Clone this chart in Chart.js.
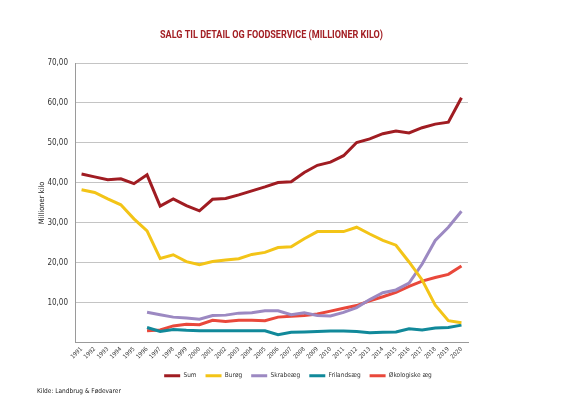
<!DOCTYPE html>
<html>
<head>
<meta charset="utf-8">
<script src="https://cdn.jsdelivr.net/npm/chart.js@4.4.1/dist/chart.umd.min.js"></script>
<style>
html,body{margin:0;padding:0;background:#fff;}
canvas{display:block;}
</style>
</head>
<body>
<canvas id="c" width="576" height="407"></canvas>
<script>
const years = ['1991','1992','1993','1994','1995','1996','1997','1998','1999','2000','2001','2002','2003','2004','2005','2006','2007','2008','2009','2010','2011','2012','2013','2014','2015','2016','2017','2018','2019','2020'];
const sumValues = [42.2,41.5,40.8,41.0,39.8,42.0,34.2,36.0,34.3,33.0,35.9,36.1,37.0,38.0,39.0,40.1,40.3,42.6,44.4,45.2,46.8,50.1,51.0,52.3,53.0,52.5,53.8,54.7,55.2,61.3];
const burValues = [38.3,37.6,36.0,34.5,31.0,28.0,21.1,22.0,20.3,19.5,20.3,20.7,21.0,22.1,22.6,23.8,24.0,26.0,27.8,27.8,27.8,28.9,27.2,25.6,24.4,20.2,15.7,9.4,5.5,5.0];
const skrabeValues = [null,null,null,null,null,7.6,7.0,6.4,6.2,5.9,6.8,6.9,7.4,7.5,8.0,8.0,7.0,7.5,6.8,6.7,7.6,8.8,10.8,12.5,13.2,14.9,19.7,25.6,28.9,32.9];
const frilandValues = [null,null,null,null,null,3.8,2.8,3.3,3.1,3.0,3.0,3.0,3.0,3.0,3.0,2.0,2.6,2.7,2.8,2.9,2.9,2.8,2.5,2.6,2.7,3.5,3.2,3.7,3.8,4.4];
const oekoValues = [null,null,null,null,null,3.0,3.2,4.2,4.6,4.5,5.6,5.3,5.6,5.6,5.5,6.4,6.6,6.8,7.2,7.9,8.6,9.3,10.5,11.5,12.6,14.1,15.4,16.3,17.1,19.2];
const seriesNames = ['Sum','Burøg','Skrabeæg','Frilandsæg','Økologiske æg'];
const yTicks = [0,10,20,30,40,50,60,70];
const titleText = 'SALG TIL DETAIL OG FOODSERVICE (MILLIONER KILO)';
const sourceText = 'Kilde: Landbrug & Fødevarer';
const yTitle = 'Millioner kilo';

const FONT = "'DejaVu Sans Condensed', 'Liberation Sans Narrow', 'Roboto', sans-serif";
const colors = ['#a01c22','#f3c417','#9c89c2','#11899a','#e9483b'];
const allValues = [sumValues, burValues, skrabeValues, frilandValues, oekoValues];

const extraText = {
  id: 'extraText',
  afterDraw(chart) {
    const ctx = chart.ctx;
    const a = chart.chartArea;
    ctx.save();
    ctx.fillStyle = '#a31f24';
    ctx.font = "bold 11px 'Roboto', sans-serif";
    ctx.textAlign = 'center';
    ctx.textBaseline = 'middle';
    const w = ctx.measureText(titleText).width;
    const sx = 223 / w;
    ctx.translate((a.left + a.right) / 2, 35);
    ctx.scale(sx, 1);
    ctx.fillText(titleText, 0, 0);
    ctx.restore();
    ctx.save();
    ctx.fillStyle = '#222';
    ctx.font = "6.5px " + FONT;
    ctx.textAlign = 'left';
    ctx.textBaseline = 'middle';
    ctx.fillText(sourceText, 37, 391);
    ctx.restore();
  }
};

new Chart(document.getElementById('c'), {
  type: 'line',
  data: {
    labels: years,
    datasets: allValues.map((vals, i) => ({
      label: seriesNames[i],
      data: vals,
      borderColor: colors[i],
      backgroundColor: colors[i],
      borderWidth: 3,
      pointRadius: 0,
      tension: 0,
      fill: false,
      yAxisID: 'y'
    }))
  },
  options: {
    responsive: false,
    animation: false,
    devicePixelRatio: 1,
    layout: { padding: { left: 20, right: 0, top: 63, bottom: 18 } },
    plugins: {
      legend: {
        position: 'bottom',
        labels: {
          usePointStyle: true,
          pointStyle: 'line',
          pointStyleWidth: 16,
          font: { size: 6.5, family: FONT },
          color: '#333',
          padding: 9
        }
      },
      title: { display: false },
      tooltip: { enabled: false }
    },
    scales: {
      x: {
        offset: true,
        grid: { display: false, drawTicks: false },
        border: { display: true, color: '#9a9a9a' },
        ticks: { maxRotation: 45, minRotation: 45, autoSkip: false, font: { size: 6, family: FONT }, color: '#333', padding: 3 }
      },
      y: {
        min: 0, max: 70,
        afterBuildTicks: s => { s.ticks = yTicks.map(v => ({ value: v })); },
        ticks: {
          callback: v => v === 0 ? '' : v.toFixed(2).replace('.', ','),
          font: { size: 8, family: FONT }, color: '#333', padding: 7
        },
        grid: { color: '#c4c4c4', drawTicks: false },
        border: { display: true, color: '#9a9a9a' },
        title: { display: true, text: yTitle, font: { size: 7.5, family: FONT }, color: '#222', padding: { top: 18, bottom: 0 } },
        afterFit: s => { s.width = 55; }
      },
      y2: {
        position: 'right',
        display: true,
        grid: { display: false, drawTicks: false },
        ticks: { display: false },
        border: { display: false },
        afterFit: s => { s.width = 108; }
      }
    }
  },
  plugins: [extraText]
});
</script>
</body>
</html>
